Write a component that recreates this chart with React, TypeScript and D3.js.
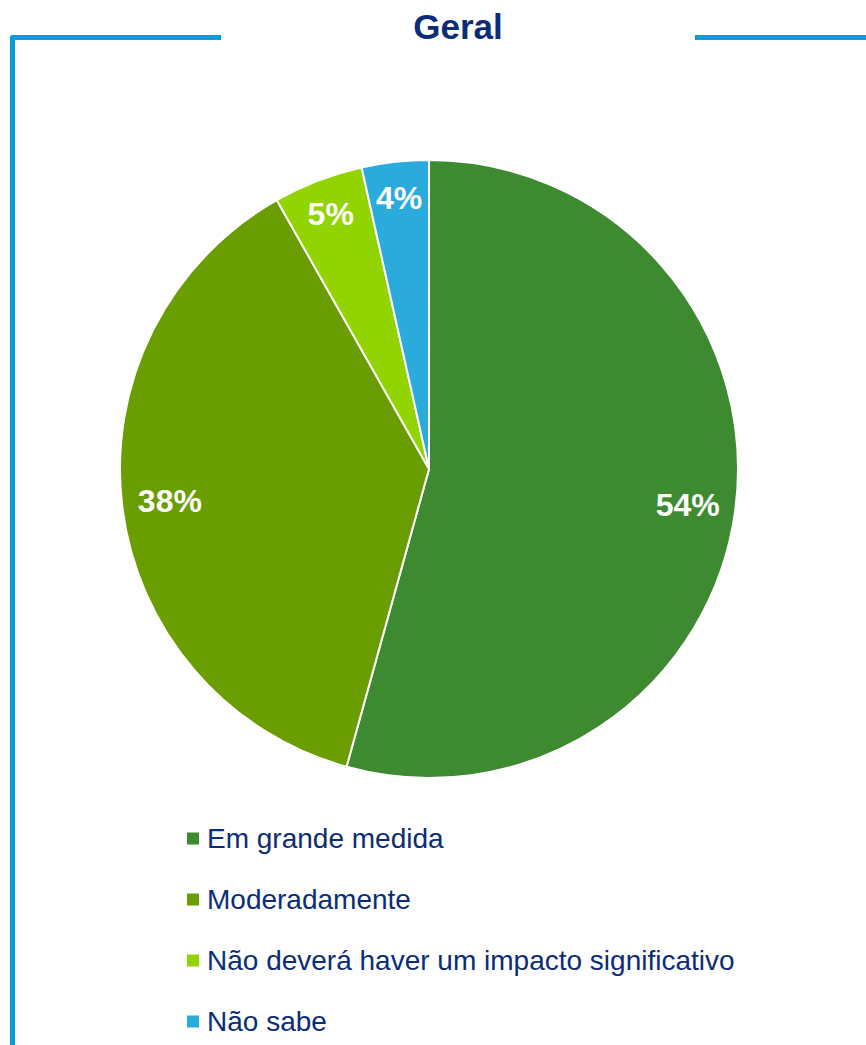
import React from "react";
import * as d3 from "d3";

const categories = [
  "Em grande medida",
  "Moderadamente",
  "Não deverá haver um impacto significativo",
  "Não sabe",
];
const values = [54.3, 37.5, 4.7, 3.5];
const labels = ["54%", "38%", "5%", "4%"];
const colors = ["#3D8A30", "#6A9D00", "#92D400", "#2AABDC"];
const title = "Geral";

const W = 866;
const H = 1045;
const cx = 429;
const cy = 469;
const R = 309;
const navy = "#0B2D78";
const frame = "#00A0DC";

export default function App() {
  const pie = d3
    .pie<number>()
    .sort(null)
    .value((d) => d);
  const arcs = pie(values);
  const arc = d3.arc<d3.PieArcDatum<number>>().innerRadius(0).outerRadius(R);
  const labelPos = (a: d3.PieArcDatum<number>) => {
    const ratio = a.value < 10 ? 0.885 : 0.845;
    const rr = R * ratio;
    return d3.arc<d3.PieArcDatum<number>>().innerRadius(rr).outerRadius(rr).centroid(a);
  };

  const legendY = d3
    .scaleBand<string>()
    .domain(categories)
    .range([817, 1061])
    .paddingInner(0);

  return (
    <svg
      width={W}
      height={H}
      style={{ position: "absolute", left: 0, top: 0, fontFamily: "'Liberation Sans', Arial, sans-serif" }}
    >
      <rect width={W} height={H} fill="#fff" />
      <path
        d={`M12.5,${H + 5} V37.5 H221`}
        fill="none"
        stroke={frame}
        strokeWidth={5}
        strokeLinejoin="round"
      />
      <path d={`M695,37.5 H${W + 5}`} fill="none" stroke={frame} strokeWidth={5} />
      <text x={458} y={39} textAnchor="middle" fontSize={35} fontWeight="bold" fill={navy}>
        {title}
      </text>
      <g transform={`translate(${cx},${cy})`}>
        {arcs.map((a, i) => (
          <path key={i} d={arc(a) || ""} fill={colors[i]} stroke="#fff" strokeWidth={2} />
        ))}
        {arcs.map((a, i) => {
          const [x, y] = labelPos(a);
          return (
            <text
              key={i}
              x={x}
              y={y}
              dy="0.36em"
              textAnchor="middle"
              fontSize={32}
              fontWeight="bold"
              fill="#fff"
            >
              {labels[i]}
            </text>
          );
        })}
      </g>
      {categories.map((c, i) => {
        const y0 = (legendY(c) || 0) + legendY.bandwidth() / 2;
        return (
          <g key={c}>
            <rect x={187} y={y0 - 15} width={12} height={12} fill={colors[i]} />
            <text x={207} y={y0} fontSize={28} fill={navy}>
              {c}
            </text>
          </g>
        );
      })}
    </svg>
  );
}
